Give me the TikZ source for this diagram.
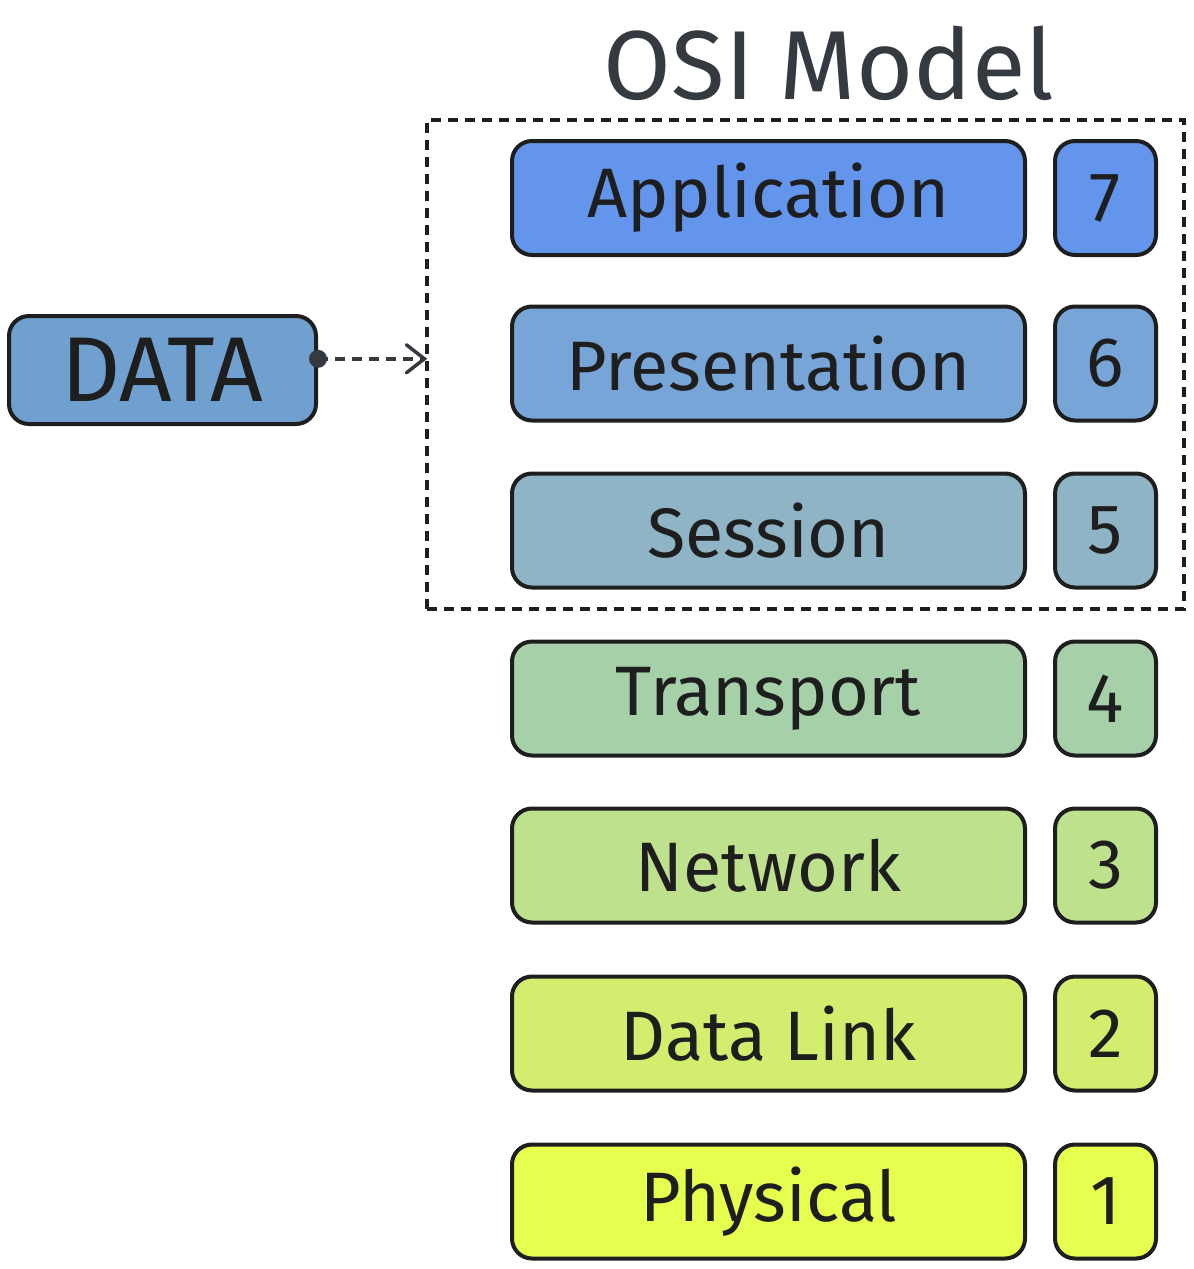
\documentclass[tikz,border=0pt]{standalone}
\usepackage{fontspec}
\setmainfont{Fira Sans}
\usetikzlibrary{arrows.meta,calc}
\definecolor{ink}{HTML}{1E1E1E}
\definecolor{ink2}{HTML}{343A40}
\definecolor{cdata}{HTML}{6FA0D0}
\definecolor{c7}{HTML}{6495ED}
\definecolor{c6}{HTML}{77A5D8}
\definecolor{c5}{HTML}{8FB4C5}
\definecolor{c4}{HTML}{A5D0A8}
\definecolor{c3}{HTML}{BDE18C}
\definecolor{c2}{HTML}{D3EE6E}
\definecolor{c1}{HTML}{E6FF4E}
\tikzset{
  box/.style={draw=ink, line width=4pt, rounded corners=20pt, text=ink,
    inner sep=0pt, font=\fontsize{70}{72}\selectfont},
  layer/.style={box, minimum width=513pt, minimum height=114pt},
  num/.style={box, minimum width=101pt, minimum height=114pt},
  grp/.style={draw=ink, line width=3.5pt, dash pattern=on 10pt off 7pt,
    minimum width=757pt, minimum height=489pt, inner sep=0pt},
  flow/.style={draw=ink2, line width=3.5pt, dash pattern=on 10pt off 7pt,
    -{Straight Barb[length=18pt,width=28pt,line cap=round,sep=-2pt]}},
}
\begin{document}
\begin{tikzpicture}[x=1pt,y=-1pt]
\useasboundingbox (0,0) rectangle (1194,1269);
\node[text=ink2, inner sep=0pt, font=\fontsize{98}{100}\selectfont] (title) at (829,63) {OSI Model};
\node[grp] (group) at (805.5,364.5) {};
\node[layer, fill=c7] (l7) at (768.5,198) {Application};
\node[layer, fill=c6] (l6) at (768.5,363.5) {Presentation};
\node[layer, fill=c5] (l5) at (768.5,530.5) {Session};
\node[layer, fill=c4] (l4) at (768.5,698.5) {Transport};
\node[layer, fill=c3] (l3) at (768.5,865.5) {Network};
\node[layer, fill=c2] (l2) at (768.5,1033.5) {Data Link};
\node[layer, fill=c1] (l1) at (768.5,1201.5) {Physical};
\node[num, fill=c7] (n7) at (1105.5,198) {7};
\node[num, fill=c6] (n6) at (1105.5,363.5) {6};
\node[num, fill=c5] (n5) at (1105.5,530.5) {5};
\node[num, fill=c4] (n4) at (1105.5,698.5) {4};
\node[num, fill=c3] (n3) at (1105.5,865.5) {3};
\node[num, fill=c2] (n2) at (1105.5,1033.5) {2};
\node[num, fill=c1] (n1) at (1105.5,1201.5) {1};
\node[box, fill=cdata, minimum width=307pt, minimum height=108pt, font=\fontsize{92}{94}\selectfont] (data) at (162.5,370) {DATA};
\coordinate (dot) at ($(data.north east)!0.4!(data.south east)$);
\draw[flow] (dot) -- (dot -| group.west);
\fill[ink2] (dot) circle (9pt);
\end{tikzpicture}
\end{document}
